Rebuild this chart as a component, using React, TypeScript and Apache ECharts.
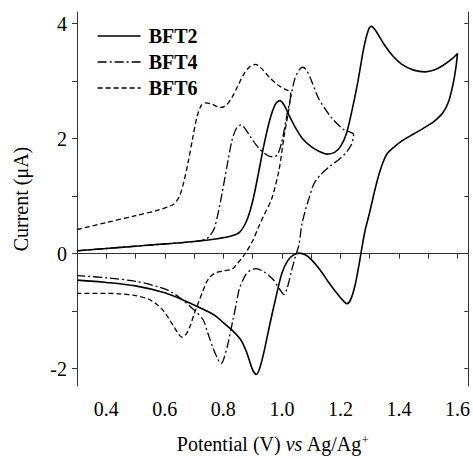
import React, { useEffect, useRef } from 'react';
import * as echarts from 'echarts';

// BFT2 (forward scan then reverse scan)
const bft2Potential = [
  0.30, 0.40, 0.50, 0.60, 0.70, 0.78, 0.83, 0.855, 0.875, 0.89, 0.905, 0.92, 0.94, 0.96, 0.978, 0.993,
  1.008, 1.025, 1.045, 1.07, 1.10, 1.13, 1.155, 1.18, 1.20, 1.22, 1.24, 1.26, 1.28, 1.295, 1.305,
  1.32, 1.35, 1.38, 1.41, 1.45, 1.49, 1.52, 1.55, 1.58, 1.60,
  1.595, 1.585, 1.57, 1.55, 1.52, 1.49, 1.45, 1.41, 1.38, 1.36, 1.345, 1.33, 1.315, 1.30, 1.285,
  1.275, 1.265, 1.25, 1.235, 1.222, 1.21, 1.19, 1.16, 1.13, 1.10, 1.08, 1.06, 1.04, 1.02, 1.00,
  0.98, 0.96, 0.94, 0.925, 0.913, 0.90, 0.88, 0.86, 0.83, 0.80, 0.77, 0.72, 0.66, 0.60, 0.50,
  0.40, 0.30,
];
const bft2Current = [
  0.05, 0.09, 0.13, 0.17, 0.21, 0.26, 0.31, 0.37, 0.52, 0.72, 1.02, 1.40, 1.92, 2.35, 2.60, 2.66,
  2.58, 2.40, 2.20, 2.00, 1.86, 1.77, 1.73, 1.76, 1.86, 2.08, 2.50, 3.00, 3.58, 3.88, 3.95,
  3.88, 3.63, 3.43, 3.29, 3.19, 3.16, 3.19, 3.27, 3.38, 3.48,
  3.25, 2.95, 2.65, 2.45, 2.30, 2.20, 2.08, 1.96, 1.84, 1.74, 1.58, 1.35, 1.05, 0.72, 0.42,
  0.15, -0.15, -0.55, -0.80, -0.87, -0.82, -0.70, -0.50, -0.28, -0.10, -0.02, 0.01, -0.02, -0.12, -0.34,
  -0.75, -1.20, -1.68, -1.98, -2.10, -2.02, -1.72, -1.50, -1.33, -1.20, -1.07, -0.94, -0.80, -0.68, -0.56,
  -0.50, -0.46,
];

// BFT4
const bft4Potential = [
  0.30, 0.40, 0.50, 0.60, 0.70, 0.74, 0.755, 0.77, 0.79, 0.81, 0.83, 0.845, 0.86, 0.875, 0.89,
  0.92, 0.95, 0.97, 0.985, 1.00, 1.015, 1.03, 1.045, 1.06, 1.072, 1.085, 1.10, 1.125, 1.15, 1.17,
  1.21, 1.245,
  1.238, 1.22, 1.20, 1.16, 1.13, 1.11, 1.095, 1.08, 1.068, 1.058, 1.046, 1.035, 1.018, 1.007, 0.99,
  0.97, 0.94, 0.912, 0.89, 0.877, 0.865, 0.854, 0.845, 0.832, 0.815, 0.80, 0.792, 0.78, 0.764,
  0.745, 0.73, 0.70, 0.66, 0.62, 0.58, 0.50, 0.40, 0.30,
];
const bft4Current = [
  0.05, 0.09, 0.13, 0.17, 0.21, 0.25, 0.32, 0.45, 0.90, 1.45, 1.98, 2.18, 2.24, 2.17, 2.05,
  1.84, 1.71, 1.68, 1.72, 1.95, 2.35, 2.72, 3.05, 3.20, 3.24, 3.18, 3.02, 2.70, 2.50, 2.36,
  2.16, 2.07,
  1.90, 1.76, 1.66, 1.50, 1.36, 1.22, 1.00, 0.75, 0.50, 0.15, -0.05, -0.26, -0.60, -0.71, -0.60,
  -0.45, -0.32, -0.26, -0.30, -0.36, -0.48, -0.62, -0.85, -1.17, -1.58, -1.85, -1.91, -1.82, -1.63,
  -1.35, -1.14, -0.98, -0.80, -0.66, -0.58, -0.48, -0.42, -0.38,
];

// BFT6
const bft6Potential = [
  0.30, 0.40, 0.50, 0.58, 0.63, 0.65, 0.665, 0.68, 0.695, 0.71, 0.725, 0.74, 0.76, 0.79, 0.81,
  0.83, 0.85, 0.87, 0.89, 0.91, 0.93, 0.96, 0.99, 1.01, 1.03,
  1.025, 1.007, 0.99, 0.965, 0.94, 0.92, 0.90, 0.877, 0.86, 0.843, 0.83, 0.80, 0.775, 0.755, 0.742,
  0.73, 0.715, 0.70, 0.685, 0.67, 0.658, 0.645, 0.63, 0.61, 0.595, 0.57, 0.54, 0.50, 0.45, 0.40,
  0.30,
];
const bft6Current = [
  0.42, 0.54, 0.66, 0.76, 0.86, 1.00, 1.25, 1.60, 2.00, 2.38, 2.58, 2.62, 2.60, 2.54, 2.58,
  2.72, 2.92, 3.12, 3.25, 3.29, 3.22, 3.05, 2.92, 2.86, 2.80,
  2.55, 2.02, 1.45, 0.95, 0.68, 0.46, 0.22, 0.02, -0.10, -0.20, -0.27, -0.30, -0.33, -0.40, -0.50,
  -0.65, -0.85, -1.05, -1.28, -1.42, -1.45, -1.38, -1.26, -1.10, -0.99, -0.87, -0.78, -0.73, -0.70, -0.69,
  -0.69,
];

const seriesNames = ['BFT2', 'BFT4', 'BFT6'];
const xTickValues = [0.3, 0.4, 0.5, 0.6, 0.7, 0.8, 0.9, 1.0, 1.1, 1.2, 1.3, 1.4, 1.5, 1.6];
const xLabelValues = [0.4, 0.6, 0.8, 1.0, 1.2, 1.4, 1.6];
const yTickValues = [-2, -1, 0, 1, 2, 3, 4];
const yLabelValues = [-2, 0, 2, 4];

const FONT = 'Liberation Serif';

function pairs(xs: number[], ys: number[]) {
  return xs.map((x, i) => [x, ys[i]]);
}

export default function App() {
  const ref = useRef<HTMLDivElement>(null);
  useEffect(() => {
    const chart = echarts.init(ref.current!, null, { renderer: 'svg' });
    const axisLine = { show: true, lineStyle: { color: '#333', width: 1 } };
    const baseX = { type: 'value', min: 0.3, max: 1.637, splitLine: { show: false } };
    const baseY = { type: 'value', min: -2.3, max: 4.2, splitLine: { show: false } };
    const lineSeries = (name: string, data: number[][], type: any, width: number) => ({
      name,
      type: 'line',
      data,
      symbol: 'none',
      smooth: 0.3,
      xAxisIndex: 0,
      yAxisIndex: 0,
      lineStyle: { color: '#000', width, type },
      itemStyle: { color: '#000' },
    });
    chart.setOption({
      animation: false,
      backgroundColor: '#fff',
      textStyle: { fontFamily: FONT, color: '#000' },
      grid: { left: 77, right: 2, top: 12, bottom: 66 },
      legend: {
        data: seriesNames,
        orient: 'vertical',
        left: 97,
        top: 26,
        padding: 0,
        itemWidth: 43,
        itemHeight: 14,
        itemGap: 6,
        itemStyle: { opacity: 0 },
        lineStyle: { width: 1.3 },
        textStyle: { fontFamily: FONT, fontSize: 20, fontWeight: 'bold', color: '#000', padding: [0, 0, 0, 3] },
      },
      xAxis: [
        {
          ...baseX,
          position: 'bottom',
          name: '{n|Potential (V) }{i|vs}{n| Ag/Ag}{s|+}',
          nameLocation: 'middle',
          nameGap: 48,
          nameTextStyle: {
            rich: {
              n: { fontFamily: FONT, fontSize: 20, color: '#000' },
              i: { fontFamily: FONT, fontSize: 20, fontStyle: 'italic', color: '#000' },
              s: { fontFamily: FONT, fontSize: 12, color: '#000', verticalAlign: 'top' },
            },
          },
          axisLine,
          axisTick: { show: true, inside: false, length: 5, customValues: xTickValues, lineStyle: { color: '#333' } },
          axisLabel: {
            customValues: xLabelValues,
            margin: 13,
            fontFamily: FONT,
            fontSize: 20,
            color: '#000',
            formatter: (v: number) => v.toFixed(1),
          },
        },
        {
          ...baseX,
          position: 'top',
          axisLine,
          axisTick: { show: true, inside: true, length: 4, customValues: xTickValues, lineStyle: { color: '#333' } },
          axisLabel: { show: false },
        },
      ],
      yAxis: [
        {
          ...baseY,
          position: 'left',
          name: 'Current (μA)',
          nameLocation: 'middle',
          nameGap: 46,
          nameTextStyle: { fontFamily: FONT, fontSize: 20, color: '#000' },
          axisLine,
          axisTick: { show: true, inside: false, length: 5, customValues: yTickValues, lineStyle: { color: '#333' } },
          axisLabel: {
            customValues: yLabelValues,
            margin: 10,
            fontFamily: FONT,
            fontSize: 20,
            color: '#000',
            formatter: (v: number) => String(v),
          },
        },
        {
          ...baseY,
          position: 'right',
          axisLine,
          axisTick: { show: true, inside: true, length: 4, customValues: yTickValues, lineStyle: { color: '#333' } },
          axisLabel: { show: false },
        },
      ],
      series: [
        lineSeries('BFT2', pairs(bft2Potential, bft2Current), 'solid', 1.6),
        lineSeries('BFT4', pairs(bft4Potential, bft4Current), [9, 3, 2, 3], 1.3),
        lineSeries('BFT6', pairs(bft6Potential, bft6Current), [5, 3], 1.3),
      ],
    });
    return () => chart.dispose();
  }, []);
  return <div ref={ref} style={{ position: 'fixed', left: 0, top: 0, width: 473, height: 459 }} />;
}
